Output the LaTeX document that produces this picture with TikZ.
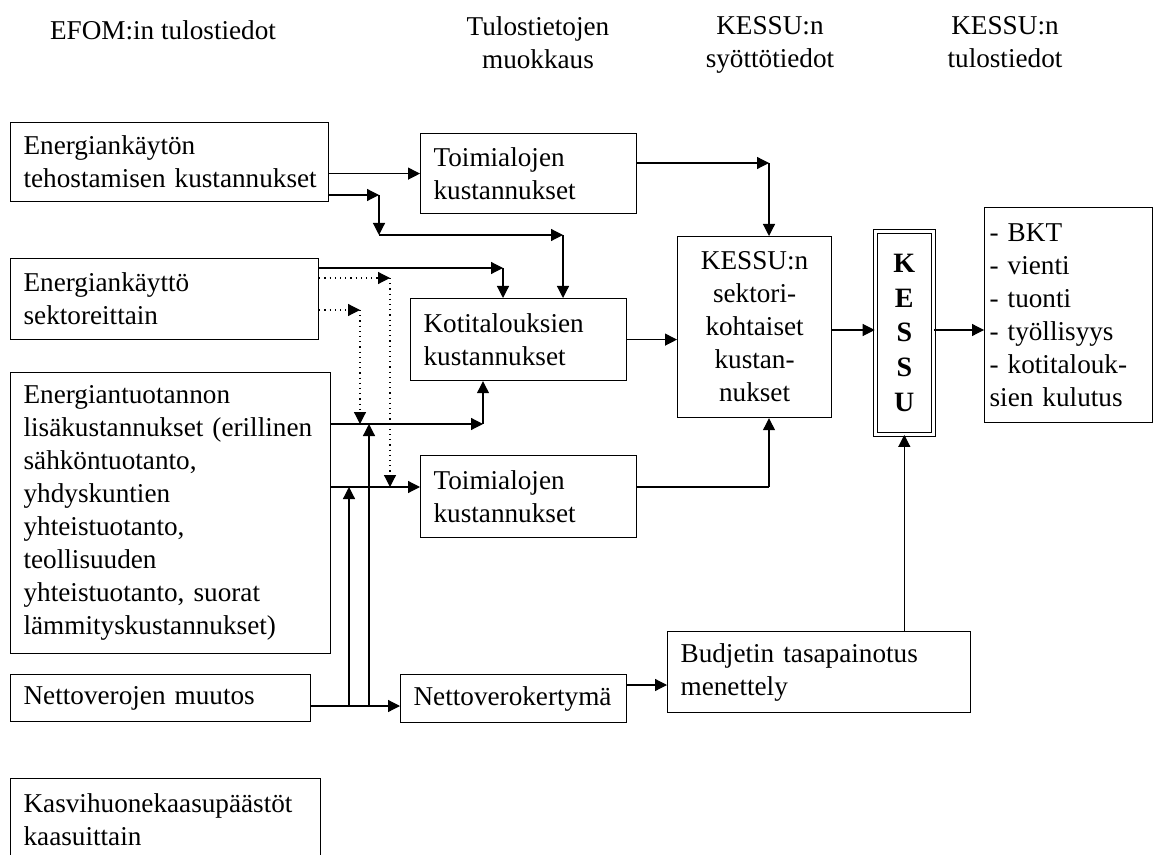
\documentclass[tikz,border=0pt]{standalone}
\usepackage{fontspec}
\setmainfont{Liberation Serif}
\usetikzlibrary{arrows.meta,calc}
\newcommand{\dgfont}{\fontsize{13.6pt}{16.5pt}\selectfont}
\hyphenpenalty=10000
\exhyphenpenalty=10000

\begin{document}
\begin{tikzpicture}[
      x=0.5pt, y=-0.5pt,
      box/.style={draw, line width=0.6pt, anchor=north west, align=left, inner xsep=6.5pt, inner ysep=0pt, font=\dgfont},
      head/.style={align=center, anchor=north, inner sep=0pt, font=\dgfont, execute at begin node=\strut},
      arr/.style={-{Triangle[length=6pt, width=6pt]}, line width=0.6pt},
      dotarr/.style={arr, dotted}
    ]
    \useasboundingbox (0,0) rectangle (1155,855);
    \clip (0,0) rectangle (1155,855);

    % column headings
    \node[head] (h1) at (163,16) {EFOM:in tulostiedot};
    \node[head] (h2) at (538,16) {Tulostietojen\\muokkaus};
    \node[head] (h3) at (770,16) {KESSU:n\\syöttötiedot};
    \node[head] (h4) at (1005,16) {KESSU:n\\tulostiedot};

    % EFOM output
    \node[box, text width=146pt, minimum height=39.5pt] (tehost) at (10,122) {Energiankäytön\\tehostamisen~kustannukset};
    \node[box, text width=141pt, minimum height=40.5pt] (sektor) at (10,258) {Energiankäyttö\\sektoreittain};
    \node[box, text width=147pt, minimum height=140.5pt] (tuot) at (10,372) {Energiantuotannon\\lisäkustannukset~(erillinen\\sähköntuotanto,\\yhdyskuntien\\yhteistuotanto,\\teollisuuden\\yhteistuotanto,~suorat\\lämmityskustannukset)};
    \node[box, text width=137pt, minimum height=23.5pt] (nvero) at (10,674) {Nettoverojen~muutos};
    \node[box, text width=142pt, minimum height=41pt] (kasvi) at (10,778) {Kasvihuonekaasupäästöt\\kaasuittain};

    % editing
    \node[box, text width=95pt, minimum height=40pt] (toimA) at (420,133) {Toimialojen\\kustannukset};
    \node[box, text width=95pt, minimum height=41pt] (koti) at (410,298) {Kotitalouksien\\kustannukset};
    \node[box, text width=95pt, minimum height=41pt] (toimB) at (420,455) {Toimialojen\\kustannukset};
    \node[box, text width=100pt, minimum height=24pt] (kerty) at (400,674) {Nettoverokertymä};
    \node[box, text width=138.5pt, minimum height=40.5pt] (budj) at (667,631) {Budjetin~tasapainotus\\menettely};

    % KESSU
    \node[box, text width=64pt, minimum height=90.5pt, align=center] (sektkust) at (677,236) {KESSU:n\\sektori-\\kohtaiset\\kustan-\\nukset};
    \node[box, double, double distance=1.5pt, text width=, minimum width=29pt, minimum height=101.5pt, align=center, font=\fontsize{14pt}{17.4pt}\selectfont\bfseries] (kessu) at (874.7,230.7) {K\\E\\S\\S\\U};
    \node[box, text width=79pt, inner xsep=2.5pt, minimum height=107.5pt] (tulos) at (984,207) {- BKT\\- vienti\\- tuonti\\- työllisyys\\- kotitalouk-\\sien~kulutus};

    % helper points
    \coordinate (t1) at (379,195);
    \coordinate (t2) at (379,235);
    \coordinate (t3) at (563,235);
    \coordinate (a1) at (769,163);
    \coordinate (s1) at (503,268);
    \coordinate (d1) at (390,278);
    \coordinate (d2) at (360,310);
    \coordinate (p1) at (483,424);
    \coordinate (r1) at (0,424);
    \coordinate (r2) at (0,487);
    \coordinate (b1) at (769,487);
    \coordinate (k1) at (0,330);
    \coordinate (n1) at (0,706);
    \coordinate (n2) at (0,685);
    \coordinate (v1) at (349,706);
    \coordinate (v2) at (369,706);

    \draw[arr] (tehost.east |- toimA.west) -- (toimA.west);
    \draw[arr] (tehost.east |- t1) -- (t1);
    \draw[arr] (t1) -- (t2);
    \draw[arr] (t2) -- (t3);
    \draw[arr] (t3) -- (t3 |- koti.north);

    \draw[arr] (toimA.east |- a1) -- (a1);
    \draw[arr] (a1) -- (a1 |- sektkust.north);

    \draw[arr] (sektor.east |- s1) -- (s1);
    \draw[arr] (s1) -- (s1 |- koti.north);
    \draw[dotarr] (sektor.east |- d1) -- (d1);
    \draw[dotarr] (d1) -- (d1 |- r2);
    \draw[dotarr] (sektor.east |- d2) -- (d2);
    \draw[dotarr] (d2) -- (d2 |- r1);

    \draw[arr] (tuot.east |- p1) -- (p1);
    \draw[arr] (p1) -- (p1 |- koti.south);
    \draw[arr] (tuot.east |- r2) -- (toimB.west |- r2);
    \draw[line width=0.6pt] (toimB.east |- b1) -- (b1);
    \draw[arr] (b1) -- (b1 |- sektkust.south);

    \draw[arr] (koti.east) -- (koti.east -| sektkust.west);
    \draw[arr] (sektkust.east |- k1) -- (kessu.west |- k1);
    \draw[arr] (kessu.east |- k1) -- (tulos.west |- k1);

    \draw[arr] (nvero.east |- n1) -- (kerty.west |- n1);
    \draw[arr] (v1) -- (v1 |- r2);
    \draw[arr] (v2) -- (v2 |- r1);
    \draw[arr] (kerty.east |- n2) -- (budj.west |- n2);
    \draw[arr] (kessu.south |- budj.north) -- (kessu.south);
  \end{tikzpicture}
\end{document}
